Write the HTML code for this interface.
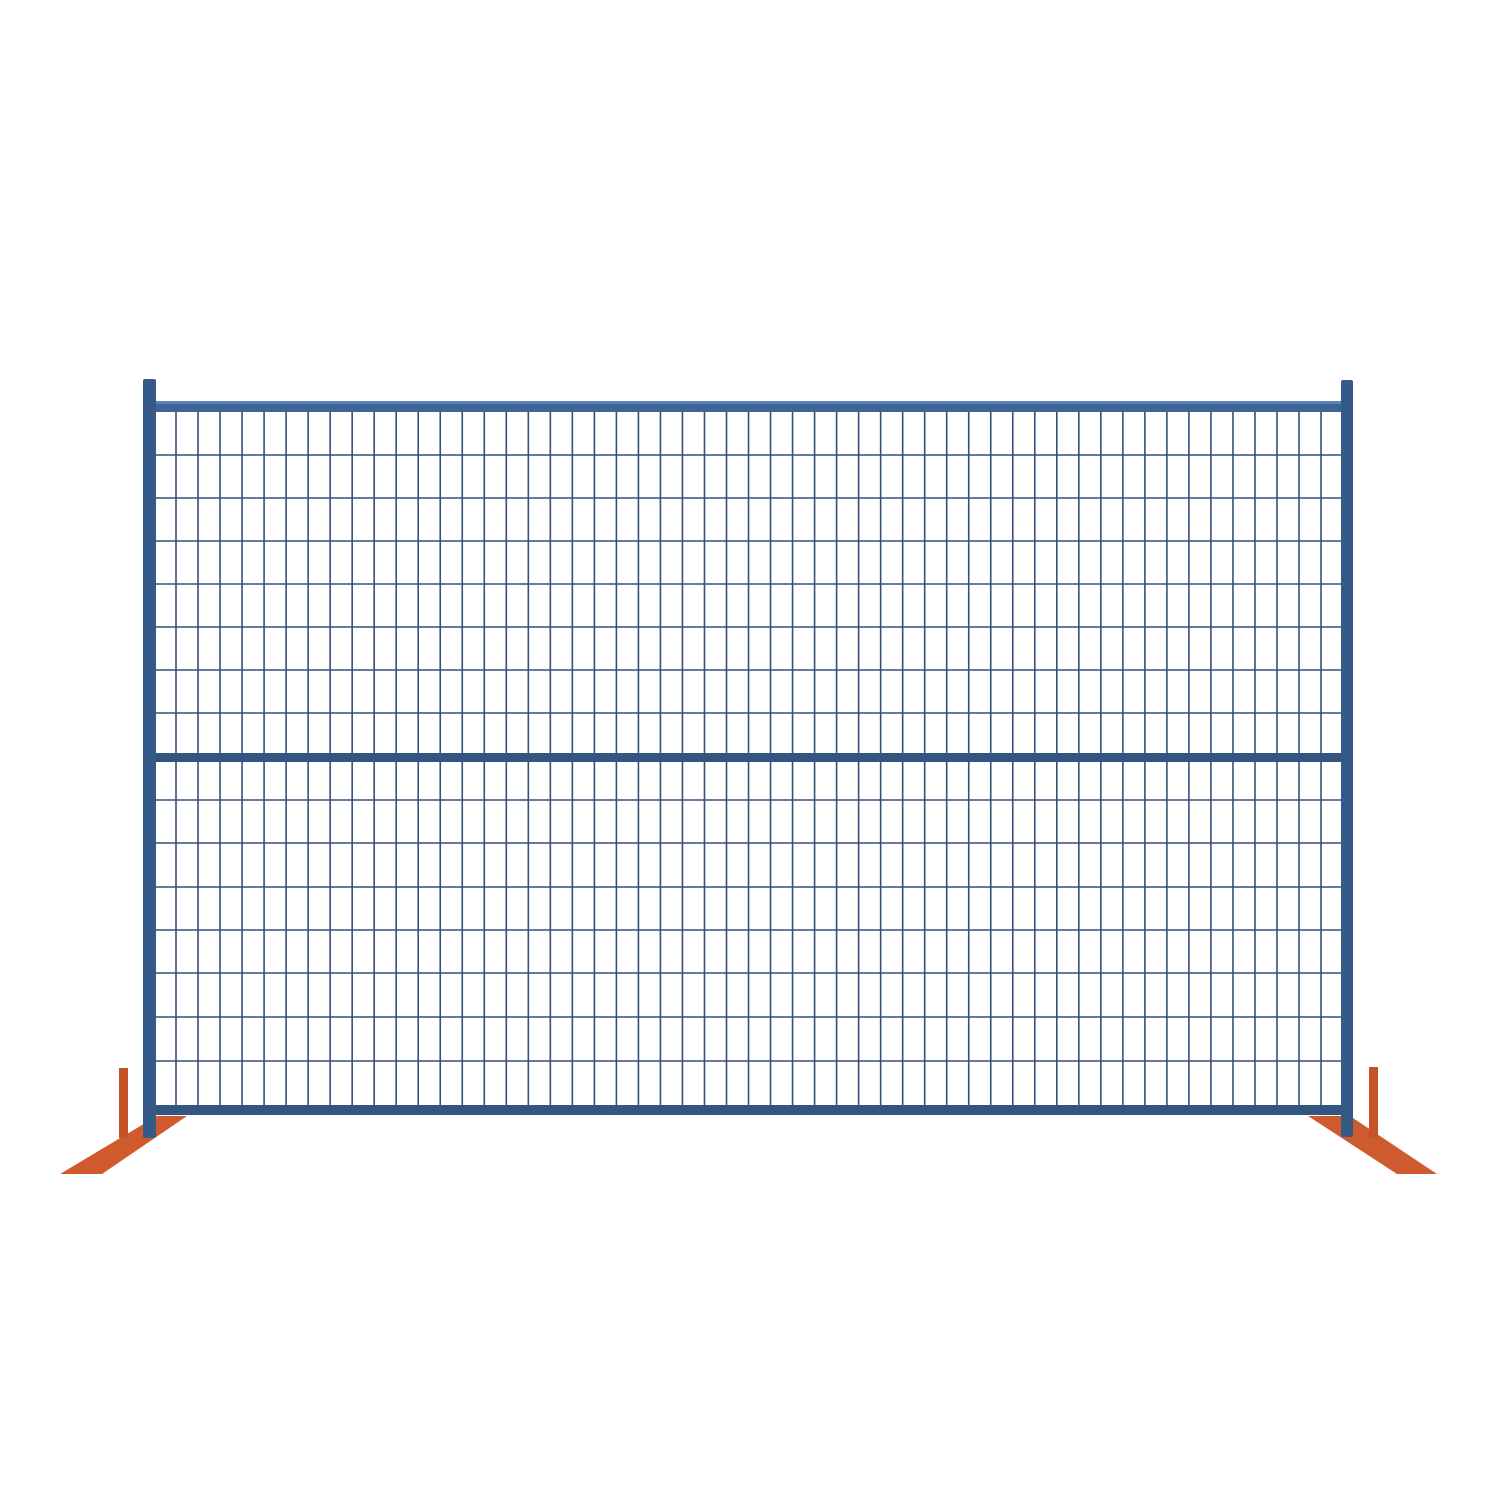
<!DOCTYPE html>
<html><head><meta charset="utf-8"><style>html,body{margin:0;padding:0;background:#fff}svg{display:block}</style></head>
<body>
<svg width="1500" height="1500" viewBox="0 0 1500 1500">
<rect width="1500" height="1500" fill="#fff"/>
<g id="mesh"></g>
<rect x="150" y="401" width="1195" height="11" fill="#3f6596"/>
<rect x="150" y="401" width="1195" height="3" fill="#5b82b4"/>
<rect x="150" y="753" width="1195" height="9" fill="#34557f"/>
<rect x="150" y="1105" width="1195" height="10" fill="#34557f"/>
<polygon points="60,1174 102,1174 187,1116 157,1116" fill="#cf5a2e"/>
<rect x="119" y="1068" width="9" height="70" fill="#c4532a"/>
<polygon points="1308,1116 1350,1116 1437,1174 1397,1174" fill="#cf5a2e"/>
<rect x="1369" y="1067" width="9" height="70" fill="#c4532a"/>
<rect x="143" y="379" width="13" height="759" rx="2" fill="#355a88"/>
<rect x="1341" y="380" width="12" height="757" rx="2" fill="#355a88"/>
</svg>
<script>
const vWires = 53, vStart = 176, vStep = 22.02;
const hWiresTop = [455, 498, 541, 584, 627, 670, 713];
const hWiresBottom = [800, 843, 887, 930, 973, 1017, 1061];
const g = document.getElementById('mesh');
const NS = 'http://www.w3.org/2000/svg';
for (let i = 0; i < vWires; i++) {
  const x = vStart + i * vStep;
  const l = document.createElementNS(NS, 'line');
  l.setAttribute('x1', x); l.setAttribute('x2', x);
  l.setAttribute('y1', 410); l.setAttribute('y2', 1107);
  l.setAttribute('stroke', '#34507a'); l.setAttribute('stroke-width', '1.6');
  
  
  g.appendChild(l);
}
hWiresTop.concat(hWiresBottom).forEach(y => {
  const l = document.createElementNS(NS, 'line');
  l.setAttribute('x1', 155); l.setAttribute('x2', 1342);
  l.setAttribute('y1', y); l.setAttribute('y2', y);
  l.setAttribute('stroke', '#34507a'); l.setAttribute('stroke-width', '1.6');
  
  
  g.appendChild(l);
});
</script>
</body></html>
